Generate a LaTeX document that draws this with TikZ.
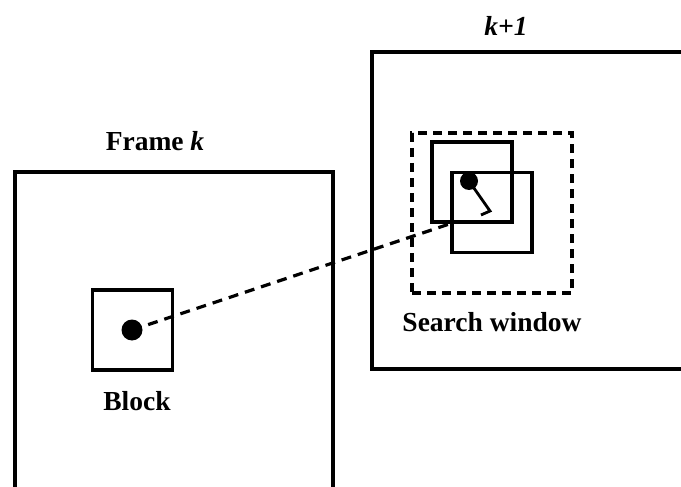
\documentclass[tikz,border=0pt]{standalone}
\usepackage{fontspec}
\setmainfont{Liberation Serif}
\begin{document}
\begin{tikzpicture}[x=1pt,y=-1pt,
  frame/.style={draw,line width=3.2pt,inner sep=0pt,rectangle},
  blk/.style={draw,line width=3.4pt,inner sep=0pt,minimum width=80pt,minimum height=80pt,rectangle},
  win/.style={draw,line width=3.2pt,dash pattern=on 9pt off 6pt,inner sep=0pt,minimum width=160pt,minimum height=160pt,rectangle},
  dot/.style={circle,fill=black,inner sep=0pt},
  lbl/.style={font=\fontsize{27.5}{30}\selectfont\bfseries,inner sep=0pt},
  link/.style={line width=3.2pt,dash pattern=on 10pt off 7pt}
]
\useasboundingbox (0,0) rectangle (681,487);
\clip (0,0) rectangle (681,487);
% frames
\node[frame,minimum width=318pt,minimum height=360pt] (fk) at (174,352) {};
\node[frame,minimum width=360pt,minimum height=317pt] (fk1) at (552,210.5) {};
% labels
\node[lbl] (tk) at (155,141) {Frame \textit{k}};
\node[lbl] (tk1) at (506,26) {\textit{k+1}};
% block in frame k
\node[blk] (block) at (132.5,330) {};
\node[dot,minimum size=21pt] (bdot) at (132,330) {};
\node[lbl] (tblock) at (137,401) {Block};
% search window
\node[win] (sw) at (492,213) {};
\node[blk] (sq1) at (472,182) {};
\node[blk] (sq2) at (492,212.5) {};
\node[dot,minimum size=18pt] (mdot) at (469,181) {};
\coordinate (vend) at (490,211);
\coordinate (vtick) at (481,215);
\draw[line width=2.8pt] (mdot.center) -- (vend) -- (vtick);
\node[lbl] (tsw) at (492,322) {Search window};
% connector
\coordinate (lend) at (sq2.west |- sq1.south);
\draw[link] (bdot.center) -- (lend);
\end{tikzpicture}
\end{document}
